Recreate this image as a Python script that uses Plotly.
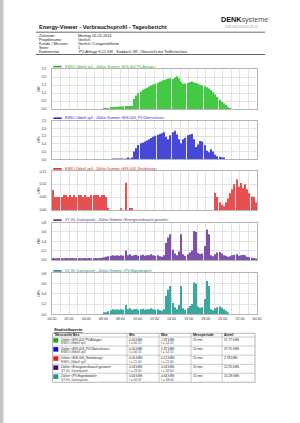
import plotly.graph_objects as go

W, H = 300, 423

# ---------------- data (15-minute slots, 96 per day) ----------------
slot_index = list(range(96))
tick_hours = [0, 2, 4, 6, 8, 10, 12, 14, 16, 18, 20, 22, 24]
tick_labels = ["00:00", "02:00", "04:00", "06:00", "08:00", "10:00", "12:00",
               "14:00", "16:00", "18:00", "20:00", "22:00", "00:00"]

pv_anlage = [
    0, 0, 0, 0, 0, 0, 0, 0, 0, 0, 0, 0,
    0, 0, 0, 0, 0, 0, 0, 0, 0, 0, 0, 0,
    0.02, 0.04, 0.06, 0.08, 0.10, 0.12, 0.14, 0.15, 0.16, 0.17, 0.18, 0.18,
    0.19, 0.20, 0.62, 0.85, 1.00, 1.10, 1.20, 1.27, 1.33, 1.40, 1.47, 1.53,
    1.58, 1.64, 1.70, 1.76, 1.82, 1.86, 1.90, 1.92, 1.88, 1.97, 2.04, 1.92,
    1.72, 1.58, 1.60, 1.62, 1.68, 1.72, 1.66, 1.62, 1.58, 1.52, 1.48, 1.42,
    1.36, 1.28, 1.18, 1.05, 0.90, 0.75, 0.58, 0.45, 0.36, 0.25, 0.12, 0.04,
    0, 0, 0, 0, 0, 0, 0, 0, 0, 0, 0, 0,
]
pv_ueberschuss = [
    0, 0, 0, 0, 0, 0, 0, 0, 0, 0, 0, 0,
    0, 0, 0, 0, 0, 0, 0, 0, 0, 0, 0, 0,
    0, 0, 0, 0, 0.02, 0.01, 0.03, 0.02, 0.03, 0.04, 0.03, 0.05,
    0.04, 0.06, 0.50, 0.72, 0.93, 1.04, 1.08, 1.15, 1.22, 1.30, 1.37, 1.45,
    1.52, 1.58, 1.64, 1.68, 1.74, 1.45, 1.30, 1.55, 1.75, 1.85, 1.60, 1.30,
    1.04, 1.30, 1.40, 1.55, 1.60, 1.63, 1.30, 0.80, 0.95, 1.19, 1.15, 0.90,
    0.55, 0.45, 0.65, 0.50, 0.30, 0.20, 0.17, 0.12, 0.07, 0, 0, 0,
    0, 0, 0, 0, 0, 0, 0, 0, 0, 0, 0, 0,
]
netzbezug = [
    0.078, 0.05, 0.05, 0.05, 0.05, 0.058, 0.058, 0.05, 0.058, 0.05, 0.058, 0.05,
    0.058, 0.058, 0.05, 0.058, 0.05, 0.05, 0.058, 0.058, 0.058, 0.058, 0.05, 0.058,
    0.058, 0.05, 0.008, 0, 0, 0, 0, 0, 0.006, 0, 0.106, 0,
    0.008, 0.008, 0, 0, 0, 0, 0, 0, 0, 0, 0, 0,
    0, 0, 0, 0, 0, 0, 0, 0, 0, 0, 0, 0,
    0, 0, 0, 0, 0, 0, 0, 0, 0, 0, 0, 0,
    0, 0, 0, 0, 0.067, 0.05, 0.03, 0.02, 0.015, 0.03, 0.045, 0.065,
    0.08, 0.10, 0.119, 0.09, 0.105, 0.085, 0.10, 0.08, 0.065, 0.052, 0.05, 0.03,
]
verbrauch_gesamt = [
    0.04, 0.035, 0.035, 0.04, 0.035, 0.035, 0.04, 0.035, 0.035, 0.04, 0.035, 0.035,
    0.04, 0.035, 0.035, 0.04, 0.035, 0.04, 0.035, 0.035, 0.04, 0.035, 0.04, 0.05,
    0.06, 0.07, 0.08, 0.09, 0.10, 0.09, 0.10, 0.09, 0.10, 0.09, 0.20, 0.10,
    0.12, 0.09, 0.10, 0.11, 0.09, 0.10, 0.11, 0.09, 0.10, 0.10, 0.12, 0.10,
    0.09, 0.10, 0.08, 0.07, 0.10, 0.36, 0.48, 0.55, 0.22, 0.14, 0.10, 0.18,
    0.55, 0.12, 0.09, 0.12, 0.16, 0.20, 0.62, 0.60, 0.15, 0.13, 0.14, 0.30,
    0.65, 0.55, 0.10, 0.08, 0.12, 0.16, 0.17, 0.14, 0.10, 0.09, 0.07, 0.08,
    0.10, 0.11, 0.12, 0.09, 0.10, 0.11, 0.10, 0.07, 0.06, 0.05, 0.04, 0.03,
]
pv_eigenbedarf = [
    0, 0, 0, 0, 0, 0, 0, 0, 0, 0, 0, 0,
    0, 0, 0, 0, 0, 0, 0, 0, 0, 0, 0, 0,
    0.02, 0.04, 0.06, 0.08, 0.10, 0.09, 0.10, 0.09, 0.10, 0.09, 0.18, 0.10,
    0.12, 0.09, 0.10, 0.11, 0.09, 0.10, 0.11, 0.09, 0.10, 0.10, 0.12, 0.10,
    0.09, 0.10, 0.08, 0.07, 0.10, 0.36, 0.48, 0.55, 0.22, 0.14, 0.10, 0.18,
    0.55, 0.12, 0.09, 0.12, 0.16, 0.20, 0.62, 0.60, 0.15, 0.13, 0.14, 0.30,
    0.65, 0.55, 0.10, 0.08, 0.12, 0.14, 0.15, 0.13, 0.10, 0.07, 0.03, 0,
    0, 0, 0, 0, 0, 0, 0, 0, 0, 0, 0, 0,
]

series_names = [
    "EWIO-Obbell zp1 - Zähler Summe <EIS-002 PV-Anlage>",
    "EWIO-Obbell zp2 - Zähler Summe <EIS-003_PV-Überschuss>",
    "EWIO-Obbell zp3 - Zähler Summe <EIS-004_Netzbezug>",
    "V1 Vrt. Datenpunkt - Zähler Summe <Energieverbrauch gesamt>",
    "V2 Vrt. Datenpunkt - Zähler Summe <PV-Eigenbedarf>",
]
series_values = [pv_anlage, pv_ueberschuss, netzbezug, verbrauch_gesamt, pv_eigenbedarf]
y_ranges = [[0, 2.5], [0, 2.5], [0, 0.15], [0, 0.8], [0, 0.8]]
y_tickvals = [
    [0, 0.5, 1.0, 1.5, 2.0, 2.5],
    [0, 0.5, 1.0, 1.5, 2.0, 2.5],
    [0, 0.05, 0.10, 0.15],
    [0, 0.2, 0.4, 0.6, 0.8],
    [0, 0.2, 0.4, 0.6, 0.8],
]
y_ticktext = [
    ["0,0", "0,5", "1,0", "1,5", "2,0", "2,5"],
    ["0,0", "0,5", "1,0", "1,5", "2,0", "2,5"],
    ["0,00", "0,05", "0,10", "0,15"],
    ["0,0", "0,2", "0,4", "0,6", "0,8"],
    ["0,0", "0,2", "0,4", "0,6", "0,8"],
]

info_labels = ["Zeitraum:", "Projektname:", "Kunde / Messort:", "Seite:", "Kommentar:"]
info_values = ["Montag 05.05.2014", "Gerlich", "Gerlich / Langenaltheim", "1",
               " PV-Anlage 8,12 kW , Süddach 38°, Übersicht mit Teilbereichen"]

table_header = ["Messstelle Bez.", "Min", "Max", "Messperiode", "Anteil"]
table_name1 = ["Zähler <EIS-002 PV-Anlage>", "Zähler <EIS-003_PV-Überschuss>",
               "Zähler <EIS-004_Netzbezug>", "Zähler <Energieverbrauch gesamt>",
               "Zähler <PV-Eigenbedarf>"]
table_name2 = ["EWIO-Obbell zp1", "EWIO-Obbell zp2", "EWIO-Obbell zp3",
               "V1 Vrt. Datenpunkt", "V2 Vrt. Datenpunkt"]
table_min = ["0,00 kWh", "0,00 kWh", "0,00 kWh", "0,03 kWh", "0,00 kWh"]
table_min_t = ["t = 00:15", "t = 00:15", "t = 21:00", "t = 23:45", "t = 00:15"]
table_max = ["1,87 kWh", "1,87 kWh", "0,12 kWh", "0,64 kWh", "0,64 kWh"]
table_max_t = ["t = 14:15", "t = 14:15", "t = 21:30", "t = 18:00", "t = 18:00"]
table_period = ["15 min", "15 min", "15 min", "15 min", "15 min"]
table_share = ["57,77 kWh", "47,91 kWh", "2,78 kWh", "12,95 kWh", "10,18 kWh"]

# ---------------- styling ----------------
FONT = "Liberation Sans"
bar_colors = ["#44c944", "#4848d8", "#e65050", "#7d52ad", "#3aa89e"]
legend_colors = ["#2fae2f", "#2a2ad0", "#d42a2a", "#5a2a8c", "#23877f"]
square_colors = ["#1faa1f", "#1010c8", "#e01e1e", "#3e0f6e", "#238f8a"]
panels_px = [(69.0, 109.0), (120.6, 159.3), (171.3, 210.0), (222.5, 260.0), (273.3, 314.3)]
PX_L, PX_R = 52.0, 257.0


def X(px):
    return px / W


def Y(py):
    return 1 - py / H


slot_hours = [(i + 0.5) / 4 for i in slot_index]

fig = go.Figure()
layout = dict(
    width=W, height=H, margin=dict(l=0, r=0, t=0, b=0), autosize=False,
    paper_bgcolor="white", plot_bgcolor="white", template="none",
    showlegend=False, bargap=0.4, font=dict(family=FONT, size=4, color="#333"),
)
annotations = []
shapes = []


def text(px, py, s, size=4.0, color="#222", anchor="left", bold=False, yanchor="middle", angle=0):
    annotations.append(dict(
        x=X(px), y=Y(py), xref="paper", yref="paper", text=("<b>%s</b>" % s) if bold else s,
        showarrow=False, xanchor=anchor, yanchor=yanchor, textangle=angle,
        font=dict(family=FONT, size=size, color=color), borderpad=0))


def line(x0, y0, x1, y1, color="#555", width=1.0):
    shapes.append(dict(type="line", xref="paper", yref="paper", x0=X(x0), y0=Y(y0),
                       x1=X(x1), y1=Y(y1), line=dict(color=color, width=width)))


def rect(x0, y0, x1, y1, fill, color=None, width=0):
    shapes.append(dict(type="rect", xref="paper", yref="paper", x0=X(x0), y0=Y(y0),
                       x1=X(x1), y1=Y(y1), fillcolor=fill,
                       line=dict(color=color or fill, width=width), layer="below"))


# page strip
rect(0, 0, 3.5, H, "#c4c4c4")

for k in range(5):
    xa = "x" if k == 0 else "x%d" % (k + 1)
    ya = "y" if k == 0 else "y%d" % (k + 1)
    top, bot = panels_px[k]
    fig.add_trace(go.Bar(
        x=slot_hours, y=series_values[k], xaxis=xa, yaxis=ya, width=0.14,
        marker=dict(color=bar_colors[k], line=dict(width=0)), hoverinfo="skip"))
    layout["xaxis" if k == 0 else "xaxis%d" % (k + 1)] = dict(
        domain=[X(PX_L), X(PX_R)], anchor=ya, range=[0, 24],
        tickmode="array", tickvals=tick_hours, ticktext=tick_labels,
        showticklabels=(k == 4), ticks="", tickfont=dict(size=3.6, color="#333"),
        showgrid=True, gridcolor="#e2e2e2", gridwidth=0.6,
        minor=dict(dtick=1, tick0=0, showgrid=True, gridcolor="#e2e2e2", gridwidth=0.6),
        showline=True, mirror=True, linecolor="#b5b5b5", linewidth=0.8,
        zeroline=False, automargin=False, fixedrange=True,
    )
    layout["yaxis" if k == 0 else "yaxis%d" % (k + 1)] = dict(
        domain=[Y(bot), Y(top)], anchor=xa, range=y_ranges[k],
        tickmode="array", tickvals=y_tickvals[k], ticktext=y_ticktext[k],
        ticks="", ticklabelstandoff=4, tickfont=dict(size=3.6, color="#333"),
        showgrid=True, gridcolor="#e2e2e2", gridwidth=0.6,
        showline=True, mirror=True, linecolor="#b5b5b5", linewidth=0.8,
        zeroline=False, automargin=False, fixedrange=True,
    )
    # legend
    rect(53.3, top - 3.2, 61.7, top - 1.6, legend_colors[k])
    text(64, top - 2.4, series_names[k], size=3.6, color=legend_colors[k])
    # unit
    text(39, (top + bot) / 2, "kWh", size=3.2, color="#333", anchor="center", angle=-90)

# header
text(38, 27, "Energy-Viewer - Verbrauchsprofil - Tagesbericht", size=5.6, color="#111", bold=True)
line(36, 32.2, 265, 32.2, "#555", 0.9)
for i, (lab, val) in enumerate(zip(info_labels, info_values)):
    yy = 35.3 + i * 4.05
    text(38, yy, lab, size=3.9, color="#222")
    text(77, yy, val, size=3.9, color="#222")
line(36, 54.5, 265, 54.5, "#555", 0.9)
text(220, 19.5, "<b>DENK</b><span style='color:#555'>systeme</span>", size=7.2, color="#111")
text(241, 27.2, "19.05.2014 15:25:01 (V1.12)", size=2.6, color="#888", anchor="center")

# statistics table
text(53, 329.6, "<u>Statistikwerte</u>", size=4.4, color="#111", bold=True)
T_L, T_R = 52.5, 255.0
col_x = [127.0, 159.0, 191.0, 222.0]
row_lines = [333.3, 337.0, 346.0, 355.2, 364.3, 373.3, 382.3]
rect(T_L, row_lines[0], T_R, row_lines[-1], "rgba(0,0,0,0)", "#9a9a9a", 0.7)
for yy in row_lines[1:-1]:
    line(T_L, yy, T_R, yy, "#a8a8a8", 0.6)
for xx in col_x:
    line(xx, row_lines[0], xx, row_lines[-1], "#a8a8a8", 0.6)
head_x = [53.8, 128.2, 160.2, 192.2, 223.2]
for hx, h in zip(head_x, table_header):
    text(hx, 335.2, h, size=3.4, color="#111", bold=True)
for r in range(5):
    rt = row_lines[r + 1]
    y1, y2 = rt + 2.6, rt + 6.4
    rect(53.3, rt + 1.1, 58.3, rt + 5.6, square_colors[r])
    text(59.6, y1, table_name1[r], size=3.2, color="#222")
    text(60.2, y2, table_name2[r], size=3.2, color="#444")
    text(128.2, y1, table_min[r], size=3.2, color="#222")
    text(128.2, y2, table_min_t[r], size=3.2, color="#444")
    text(160.2, y1, table_max[r], size=3.2, color="#222")
    text(160.2, y2, table_max_t[r], size=3.2, color="#444")
    text(192.2, y1, table_period[r], size=3.2, color="#222")
    text(223.2, y1, table_share[r], size=3.2, color="#222")

layout["annotations"] = annotations
layout["shapes"] = shapes
fig.update_layout(**layout)
fig.write_html("out.html")
